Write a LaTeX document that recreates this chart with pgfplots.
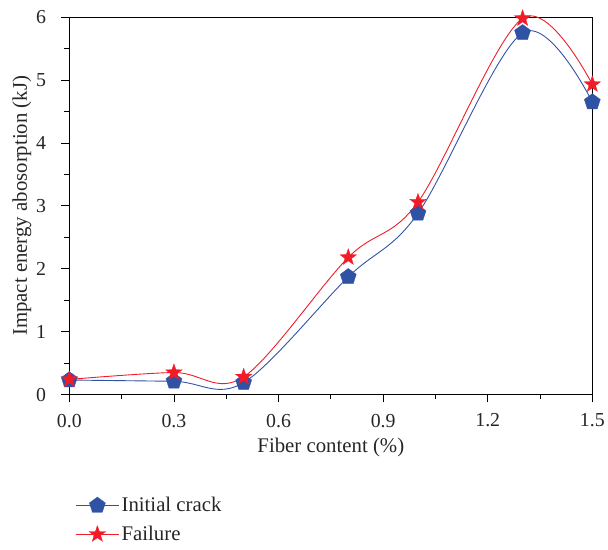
\documentclass[border=0pt]{standalone}
\usepackage{fontspec}
\setmainfont{Liberation Serif}
\usepackage{pgfplots}
\pgfplotsset{compat=1.18}
\usetikzlibrary{plotmarks}
\definecolor{cblue}{RGB}{48,82,165}
\definecolor{cred}{RGB}{240,28,40}
\pgfdeclareplotmark{fstar}{%
  \pgfpathmoveto{\pgfpointpolar{90}{1.25\pgfplotmarksize}}%
  \pgfpathlineto{\pgfpointpolar{126}{0.5\pgfplotmarksize}}%
  \pgfpathlineto{\pgfpointpolar{162}{1.25\pgfplotmarksize}}%
  \pgfpathlineto{\pgfpointpolar{198}{0.5\pgfplotmarksize}}%
  \pgfpathlineto{\pgfpointpolar{234}{1.25\pgfplotmarksize}}%
  \pgfpathlineto{\pgfpointpolar{270}{0.5\pgfplotmarksize}}%
  \pgfpathlineto{\pgfpointpolar{306}{1.25\pgfplotmarksize}}%
  \pgfpathlineto{\pgfpointpolar{342}{0.5\pgfplotmarksize}}%
  \pgfpathlineto{\pgfpointpolar{18}{1.25\pgfplotmarksize}}%
  \pgfpathlineto{\pgfpointpolar{54}{0.5\pgfplotmarksize}}%
  \pgfpathclose
  \pgfusepathqfillstroke}
\begin{document}
\begin{tikzpicture}
\begin{axis}[
  width=528pt, height=381pt, scale only axis,
  xmin=0, xmax=1.5, ymin=0, ymax=6,
  xtick={0,0.3,0.6,0.9,1.2,1.5},
  ytick={0,1,2,3,4,5,6},
  minor x tick num=1, minor y tick num=1,
  tick pos=left, tick align=outside,
  major tick length=8pt, minor tick length=5pt,
  every tick/.style={black, line width=0.8pt},
  axis line style={line width=0.8pt},
  xticklabel style={yshift=-8pt, /pgf/number format/.cd, fixed, fixed zerofill, precision=1},
  yticklabel style={xshift=-12pt},
  /pgf/number format/assume math mode=true,
  tick label style={font=\fontsize{20}{23}\selectfont, color=black!85},
  label style={font=\fontsize{21}{24}\selectfont, color=black!85},
  xlabel={Fiber content (\%)},
  ylabel={Impact energy abosorption (kJ)},
  xlabel style={yshift=-4pt},
  ylabel style={yshift=-2pt},
  clip=false,
  legend style={at={(rel axis cs:0.005,-0.262)}, anchor=north west, draw=none, fill=none,
    font=\fontsize{21}{24}\selectfont, text=black!85, row sep=9pt,
    nodes={inner sep=2pt}},
  legend cell align=left,
  legend image code/.code={\draw[#1, mark repeat=2, mark phase=2] plot coordinates {(0pt,0pt) (22pt,0pt) (44pt,0pt)};},
]
\addplot[cblue, line width=0.9pt, smooth, tension=0.55, mark=pentagon*, mark size=8.5pt,
  mark options={fill=cblue, draw=cblue, line width=0.3pt}]
  coordinates {(0,0.23) (0.3,0.21) (0.5,0.19) (0.8,1.87) (1.0,2.88) (1.3,5.75) (1.5,4.65)};
\addlegendentry{Initial crack}
\addplot[cred, line width=0.9pt, smooth, tension=0.55, mark=fstar, mark size=7pt,
  mark options={fill=cred, draw=cred, line width=0.3pt}]
  coordinates {(0,0.24) (0.3,0.35) (0.5,0.28) (0.8,2.18) (1.0,3.06) (1.3,5.98) (1.5,4.93)};
\addlegendentry{Failure}
\path (rel axis cs:-0.1326,-0.4094) (rel axis cs:1.0189,1.0394);
\end{axis}
\end{tikzpicture}
\end{document}
